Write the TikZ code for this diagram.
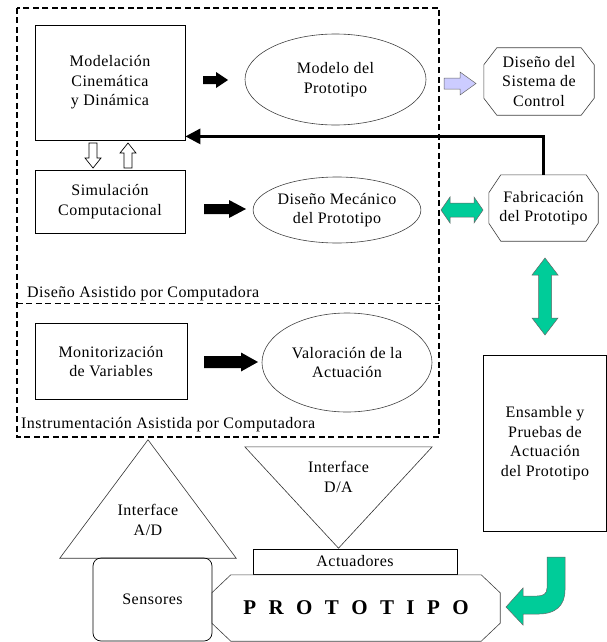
\documentclass[tikz,border=0pt]{standalone}
\usepackage{fontspec}
\setmainfont{Liberation Serif}[LetterSpace=3]
\usetikzlibrary{shapes.geometric,arrows.meta,calc}
\definecolor{tealg}{HTML}{00CC99}
\definecolor{lav}{HTML}{CCCCFF}
\newcommand\lsp{\hspace{12.4pt}}
\newcommand\octo[3]{%
  \draw[octline] ([xshift=#2]#1.north west) -- ([xshift=-#2]#1.north east) -- ([yshift=-#3]#1.north east)
   -- ([yshift=#3]#1.south east) -- ([xshift=-#2]#1.south east) -- ([xshift=#2]#1.south west)
   -- ([yshift=#3]#1.south west) -- ([yshift=-#3]#1.north west) -- cycle;}
\begin{document}
\begin{tikzpicture}[x=1pt,y=-1pt,
  txt/.style={font=\fontsize{16}{19.5}\selectfont, align=center, inner sep=0pt},
  box/.style={txt, draw, line width=0.8pt},
  ell/.style={txt, ellipse, draw=black!75, line width=0.6pt},
  plain/.style={txt},
  octline/.style={draw=black!75, line width=0.6pt},
  dashline/.style={draw, dash pattern=on 6pt off 3.5pt, line width=1.7pt},
  region/.style={inner sep=0pt},
  blk/.style={fill=black},
  grn/.style={fill=tealg, draw=black!60, line width=0.5pt},
  wht/.style={fill=white, draw=black, line width=0.7pt},
  pics/barrow/.style n args={4}{code={
    \path[pic actions] (0,-#2) -- (#1-#4,-#2) -- (#1-#4,-#3) -- (#1,0) -- (#1-#4,#3) -- (#1-#4,#2) -- (0,#2) -- cycle;}},
  pics/darrow/.style n args={4}{code={
    \path[pic actions] (#4,-#2) -- (#1-#4,-#2) -- (#1-#4,-#3) -- (#1,0) -- (#1-#4,#3) -- (#1-#4,#2)
      -- (#4,#2) -- (#4,#3) -- (0,0) -- (#4,-#3) -- cycle;}}
]
\useasboundingbox (0,0) rectangle (607,642);

% dashed containers
\node[region, minimum width=422pt, minimum height=295pt] (cad) at (228,155.5) {};
\node[region, minimum width=422pt, minimum height=134pt] (iac) at (228,370) {};
\draw[dashline] (cad.north west) rectangle (iac.south east);
\draw[dashline, line width=1.3pt] (cad.south west) -- (cad.south east);
\node[plain, anchor=west] (cadlab) at (27,294) {Diseño Asistido por Computadora};
\node[plain, anchor=west] (iaclab) at (21,425) {Instrumentación Asistida por Computadora};

% nodes
\node[box, minimum width=150pt, minimum height=115pt] (model) at (110,82.5) {Modelación\\Cinemática\\y Dinámica};
\node[ell, minimum width=181pt, minimum height=91pt] (modelo) at (335.5,79.5) {Modelo del\\Prototipo};
\node[plain, minimum width=110pt, minimum height=67pt] (control) at (539,81.5) {Diseño del\\Sistema de\\Control};
\octo{control}{13pt}{17pt}
\node[box, minimum width=150pt, minimum height=63pt] (sim) at (110,201.5) {Simulación\\Computacional};
\node[ell, minimum width=158pt, minimum height=66pt] (mec) at (337,210) {Diseño Mecánico\\del Prototipo};
\node[plain, minimum width=109pt, minimum height=66pt] (fab) at (543.5,208) {Fabricación\\del Prototipo};
\octo{fab}{12pt}{18pt}
\node[box, minimum width=152pt, minimum height=76pt] (mon) at (111,361.5) {Monitorización\\de Variables};
\node[ell, minimum width=170pt, minimum height=99pt] (val) at (347,362.5) {Valoración de la\\Actuación};
\node[box, minimum width=123pt, minimum height=176pt] (ens) at (545,443) {Ensamble y\\Pruebas de\\Actuación\\del Prototipo};

% interfaces
\node[region, minimum width=176pt, minimum height=118pt] (ad) at (148,499) {};
\draw[line width=0.6pt, draw=black!80] (ad.north) -- (ad.south east) -- (ad.south west) -- cycle;
\node[plain] (adtxt) at (148,520) {Interface\\A/D};
\node[region, minimum width=187pt, minimum height=101pt] (da) at (338.5,497.5) {};
\draw[line width=0.6pt, draw=black!80] (da.north west) -- (da.north east) -- (da.south) -- cycle;
\node[plain] (datxt) at (338.5,477) {Interface\\D/A};
\node[box, minimum width=204pt, minimum height=25pt] (act) at (355,561.5) {Actuadores};
\node[txt, draw, line width=0.7pt, rounded corners=8pt, minimum width=119pt, minimum height=83pt] (sens) at (152.5,599.5) {Sensores};
\node[txt, minimum width=288pt, minimum height=66pt, font=\fontsize{21}{24}\selectfont\bfseries] (proto) at (356,608)
  {P\lsp R\lsp O\lsp T\lsp O\lsp T\lsp I\lsp P\lsp O};
\octo{proto}{19pt}{18pt}

% block arrows
\pic[blk] at (203,80) {barrow={25}{4}{8}{12}};
\pic[blk] at (204,209) {barrow={42}{5}{9}{17}};
\pic[blk] at (204,362) {barrow={54}{6}{9.5}{17}};
\pic[fill=lav, draw=black!60, line width=0.5pt] at (444,83.5) {barrow={32}{5.5}{11.5}{16}};
\pic[grn] at (441,210) {darrow={42}{7}{13}{9}};
\pic[grn, rotate=-90] at (545,258) {darrow={77}{6.5}{13}{17}};
\pic[wht, rotate=-90] at (93,143) {barrow={25}{4}{8}{10}};
\pic[wht, rotate=90] at (128,168) {barrow={25}{4}{8}{10}};

% curved arrow
\path[grn] (565,557) -- (565,590) .. controls (565,606) and (555,614) .. (539,614) -- (523,614) -- (523,625)
  -- (506,607) -- (523,588) -- (523,596) -- (537,596) .. controls (543,596) and (547,594) .. (547,588)
  -- (547,557) -- cycle;

% feedback connector
\draw[line width=3pt, -{Triangle[length=15pt,width=15pt]}] (fab.north) |- ([yshift=4pt]model.south east);
\end{tikzpicture}
\end{document}
